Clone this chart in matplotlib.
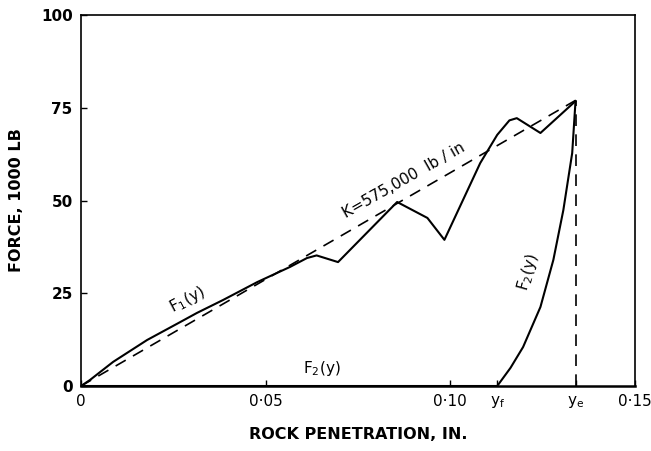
import matplotlib.pyplot as plt
import numpy as np

# F1(y) - кривая нагружения (x в дюймах, сила в 1000 lb)
f1_x = [0.0, 0.0024, 0.0087, 0.0179, 0.0268, 0.0314, 0.0385, 0.0477, 0.0566,
        0.0612, 0.0638, 0.0696, 0.0856, 0.0938, 0.0984, 0.1081, 0.1127,
        0.1160, 0.118, 0.1244, 0.1339]
f1_y = [0.0, 1.6, 6.5, 12.4, 17.2, 19.7, 23.2, 28.0, 32.1,
        34.5, 35.2, 33.4, 49.6, 45.3, 39.4, 60.1, 67.7,
        71.6, 72.2, 68.2, 76.8]

# F2(y) - кривая разгрузки
f2_x = [0.0, 0.1127, 0.1163, 0.1197, 0.1244, 0.1279, 0.1306, 0.133, 0.1339]
f2_y = [0.0, 0.0, 4.9, 10.5, 21.3, 34.0, 47.4, 62.8, 76.8]

k_slope = 575.0     # 575,000 lb/in -> 1000 lb / in
y_f = 0.1127
y_e = 0.1339

x_ticks = [0, 0.05, 0.10, y_f, y_e, 0.15]
x_labels = ['0', '0·05', '0·10', r'$\mathregular{y_f}$', r'$\mathregular{y_e}$', '0·15']
y_ticks = [0, 25, 50, 75, 100]

fig = plt.figure(figsize=(6.51, 4.51), dpi=100)
ax = fig.add_axes([0.1244, 0.1441, 0.851, 0.8226])

ax.plot(f1_x, f1_y, color='black', lw=1.5, solid_joinstyle='round')
ax.plot(f2_x, f2_y, color='black', lw=1.5, solid_joinstyle='round')

kx = np.array([0.0, y_e])
ax.plot(kx, k_slope * kx, color='black', lw=1.2, linestyle=(0, (7, 5)))
ax.plot([y_e, y_e], [0, 76.8], color='black', lw=1.2, linestyle=(0, (7, 5)))

ax.text(0.0287, 23.2, r'$\mathregular{F_1(y)}$', rotation=28, fontsize=11,
        ha='center', va='center')
ax.text(0.0653, 4.85, r'$\mathregular{F_2(y)}$', fontsize=11,
        ha='center', va='center')
ax.text(0.121, 30.7, r'$\mathregular{F_2(y)}$', rotation=74, fontsize=11,
        ha='center', va='center')
ax.text(0.0873, 55.5, 'K=575,000  lb / in', rotation=29.5, fontsize=11,
        ha='center', va='center')

ax.set_xlim(0, 0.15)
ax.set_ylim(0, 100)
ax.set_xticks(x_ticks)
ax.set_xticklabels(x_labels, fontsize=11)
ax.set_yticks(y_ticks)
ax.set_yticklabels([str(v) for v in y_ticks], fontsize=11, fontweight='bold')
ax.tick_params(direction='in', length=4, width=1, pad=6)

for s in ax.spines.values():
    s.set_linewidth(1.2)
ax.spines['bottom'].set_linewidth(1.8)

ax.set_xlabel('ROCK PENETRATION, IN.', fontsize=11.5, fontweight='bold',
              labelpad=12)
ax.set_ylabel('FORCE, 1000 LB', fontsize=11.5, fontweight='bold', labelpad=12)

fig.savefig('out.png', dpi=100)
